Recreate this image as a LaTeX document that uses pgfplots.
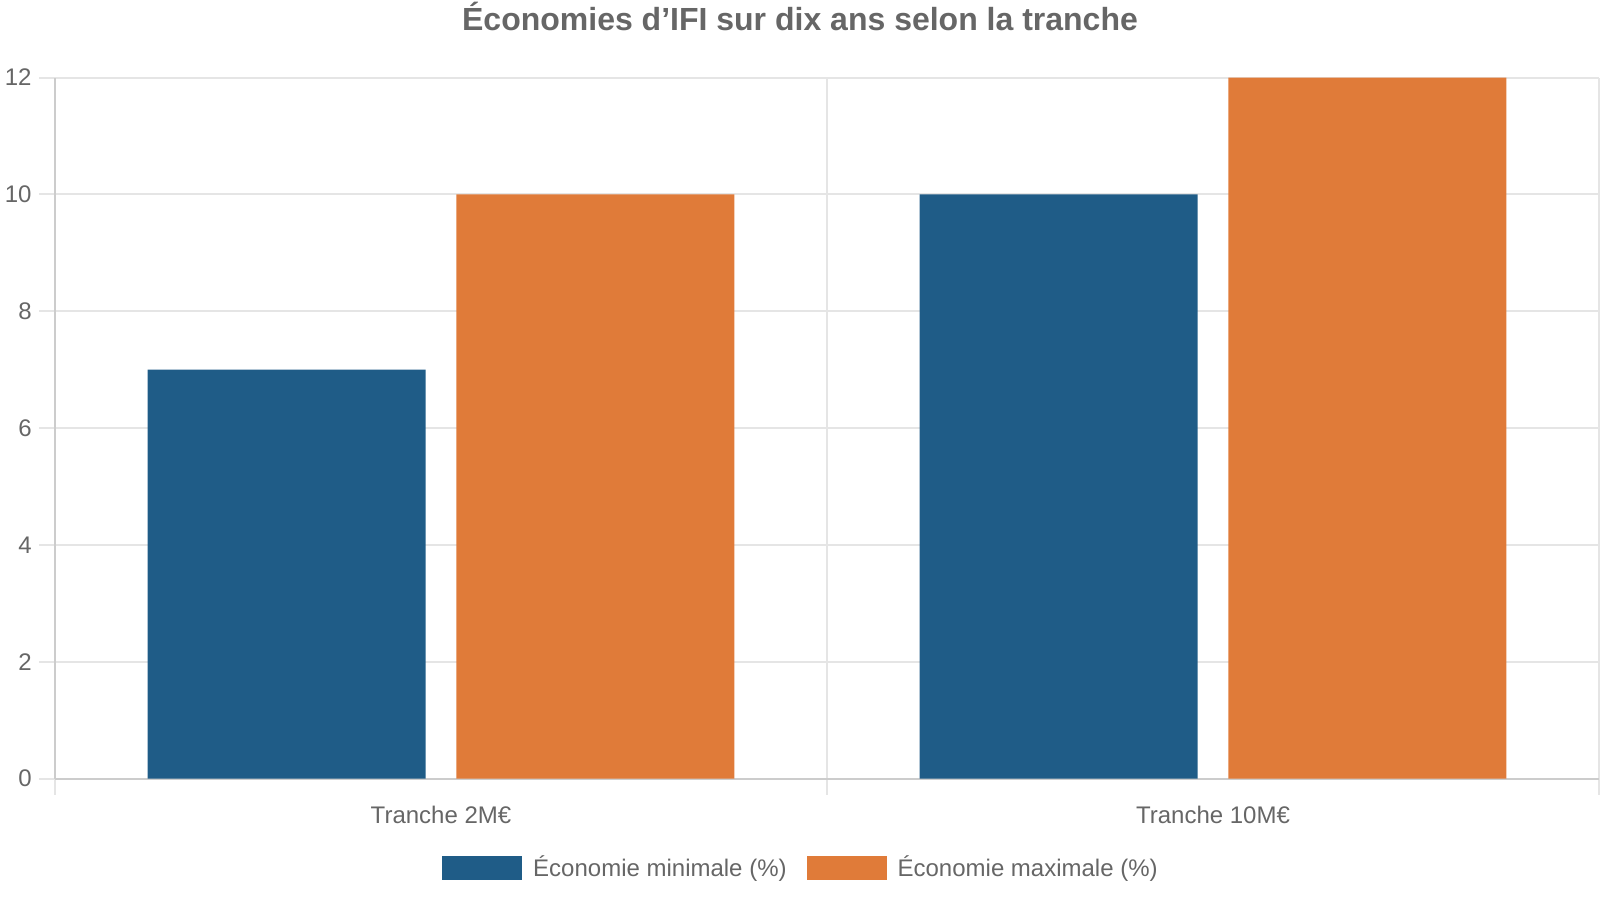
\documentclass[border=0pt]{standalone}
\usepackage{pgfplots}
\pgfplotsset{compat=1.18}
\usepackage{fontspec}
\setmainfont{Liberation Sans}

\definecolor{txtgray}{HTML}{666666}
\definecolor{gridgray}{HTML}{E5E5E5}
\definecolor{axisgray}{HTML}{CCCCCC}
\definecolor{minblue}{HTML}{1F5C87}
\definecolor{maxorange}{HTML}{E07B39}

\pgfplotsset{
  boxlegend/.style={legend image code/.code={\fill[##1] (0pt,-6pt) rectangle (40pt,6pt);}}
}

\begin{document}
\begin{tikzpicture}
  \useasboundingbox (0,0) rectangle (800pt,450pt);
  \node[anchor=base, text=txtgray, font=\bfseries\fontsize{16}{19}\selectfont]
    at (400pt,434.5pt) {Économies d’IFI sur dix ans selon la tranche};
  \begin{axis}[
      at={(27.5pt,60.7pt)}, anchor=south west,
      scale only axis,
      width=772pt, height=350.5pt,
      ybar=15.44pt,
      bar width=138.96pt,
      xmin=-0.5, xmax=1.5,
      ymin=0, ymax=12,
      xtick={0,1},
      xticklabels={Tranche 2M€, Tranche 10M€},
      minor xtick={-0.5,0.5,1.5},
      ytick={0,2,...,12},
      axis x line*=bottom,
      axis y line*=left,
      axis line style={draw=axisgray, line width=1pt, -},
      tick align=outside,
      major tick length=8pt,
      minor tick length=8pt,
      major x tick style={draw=none},
      minor x tick style={draw=gridgray, line width=1pt},
      major y tick style={draw=gridgray, line width=1pt},
      ymajorgrids=true,
      xminorgrids=true,
      major grid style={draw=gridgray, line width=1pt},
      minor grid style={draw=gridgray, line width=1pt},
      /pgf/number format/assume math mode=true,
      tick label style={font=\fontsize{12}{14}\selectfont, text=txtgray},
      yticklabel style={anchor=east, inner sep=0pt, xshift=-3.5pt},
      xticklabel style={anchor=base, inner sep=0pt, yshift=-14.5pt},
      legend columns=2,
      legend style={
        at={(axis description cs:0.4825,0)}, anchor=center, yshift=-44.5pt,
        draw=none, fill=none, inner sep=0pt,
        font=\fontsize{12}{14}\selectfont, text=txtgray,
        nodes={inner sep=0pt},
        /tikz/every odd column/.append style={column sep=5.5pt},
        /tikz/every even column/.append style={column sep=10pt},
      },
    ]
    \addplot[fill=minblue, draw=none, boxlegend] coordinates {(0,7) (1,10)};
    \addplot[fill=maxorange, draw=none, boxlegend] coordinates {(0,10) (1,12)};
    \legend{Économie minimale (\%), Économie maximale (\%)}
  \end{axis}
\end{tikzpicture}
\end{document}
